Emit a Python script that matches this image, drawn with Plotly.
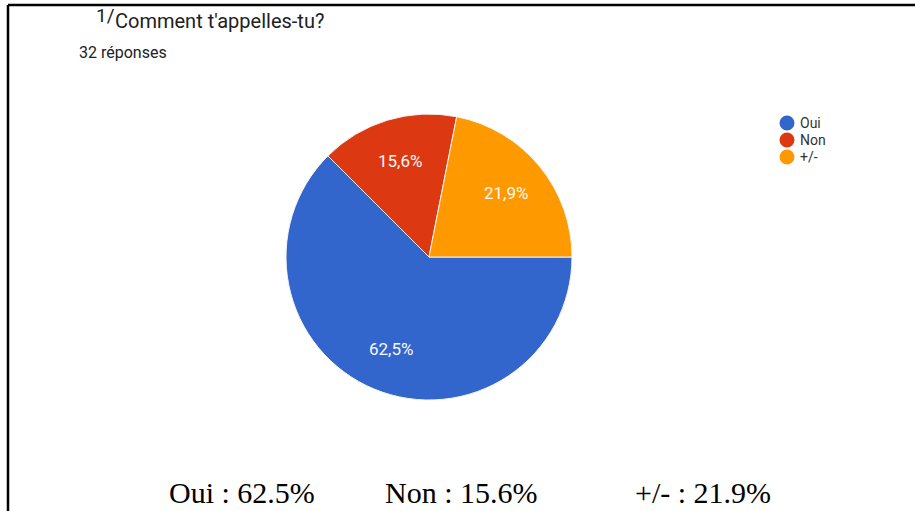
import math
import plotly.graph_objects as go

labels = ["Oui", "Non", "+/-"]
values = [62.5, 15.6, 21.9]
colors = ["#3366cc", "#dc3912", "#ff9900"]
title_num = "1/"
title_text = "Comment t'appelles-tu?"
subtitle = "32 réponses"

W, H = 915, 511
CX, CY, R = 429, 257, 143
START = 90  # degrees clockwise from 12 o'clock

def px(x):
    return x / W

def py(y):
    return 1 - y / H

slice_text = [f"{v:.1f}%".replace(".", ",") for v in values]

fig = go.Figure()
fig.add_trace(go.Pie(
    labels=labels, values=values, textinfo="none",
    sort=False, direction="clockwise", rotation=START,
    marker=dict(colors=colors, line=dict(color="#f4f4f4", width=1)),
    domain=dict(x=[px(CX - R), px(CX + R)], y=[py(CY + R), py(CY - R)]),
    showlegend=False, hoverinfo="label+percent",
))

# slice labels along the mid-angle of each slice
total = sum(values)
acc = 0.0
for txt, v in zip(slice_text, values):
    mid = math.radians(START + (acc + v / 2) / total * 360)
    acc += v
    lx = CX + 0.7 * R * math.sin(mid)
    ly = CY - 0.7 * R * math.cos(mid)
    fig.add_annotation(text=txt, x=px(lx), y=py(ly), xref="paper", yref="paper",
                       xanchor="center", yanchor="middle", showarrow=False,
                       font=dict(family="Roboto", size=17, color="#f8f8f8"))

shapes = [
    dict(type="line", xref="paper", yref="paper",
         x0=px(8), x1=1, y0=py(5), y1=py(5), line=dict(color="black", width=2.5)),
    dict(type="line", xref="paper", yref="paper",
         x0=px(8), x1=px(8), y0=py(5), y1=0, line=dict(color="black", width=2.5)),
]
# legend with circle markers
for i, (lab, col) in enumerate(zip(labels, colors)):
    yy = 123 + 17 * i
    shapes.append(dict(type="circle", xref="paper", yref="paper",
                       x0=px(787 - 7.5), x1=px(787 + 7.5), y0=py(yy + 7.5), y1=py(yy - 7.5),
                       fillcolor=col, line=dict(width=0)))
    fig.add_annotation(text=lab, x=px(798), y=py(yy), xref="paper", yref="paper",
                       xanchor="left", yanchor="middle", showarrow=False,
                       font=dict(family="Roboto", size=14, color="#333333"))

fig.update_layout(
    width=W, height=H, margin=dict(l=0, r=0, t=0, b=0),
    paper_bgcolor="white", plot_bgcolor="white",
    shapes=shapes,
)

fig.add_annotation(text=title_num, x=px(94), y=py(2), xref="paper", yref="paper",
                   xanchor="left", yanchor="top", showarrow=False,
                   font=dict(family="Roboto", size=19, color="#202124"))
fig.add_annotation(text=title_text, x=px(113), y=py(7), xref="paper", yref="paper",
                   xanchor="left", yanchor="top", showarrow=False,
                   font=dict(family="Roboto", size=20, color="#202124"))
fig.add_annotation(text=subtitle, x=px(77), y=py(52), xref="paper", yref="paper",
                   xanchor="left", yanchor="middle", showarrow=False,
                   font=dict(family="Roboto", size=16, color="#202124"))

bottom_x = [242, 461, 703]
for lab, v, bx in zip(labels, values, bottom_x):
    fig.add_annotation(text=f"{lab} : {v:.1f}%", x=px(bx), y=py(492), xref="paper", yref="paper",
                       xanchor="center", yanchor="middle", showarrow=False,
                       font=dict(family="Liberation Serif", size=30, color="black"))

fig.write_html("out.html", config={"displayModeBar": False},
               post_script="document.body.style.margin='0px';")
